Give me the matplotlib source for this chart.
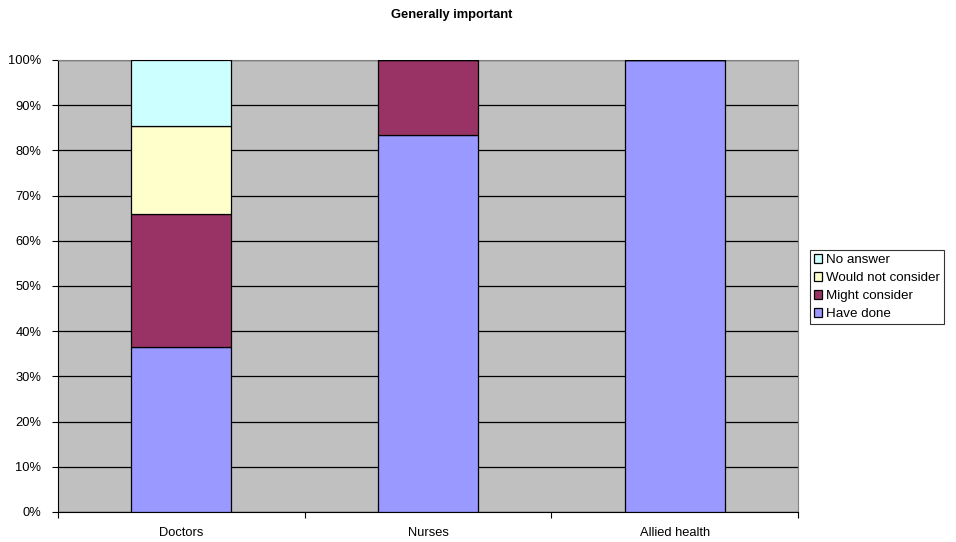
import matplotlib.pyplot as plt
import numpy as np
from matplotlib.ticker import PercentFormatter

plt.rcParams['font.family'] = ['Liberation Sans', 'DejaVu Sans']

groups = ['Doctors', 'Nurses', 'Allied health']
have_done = [36.6, 83.3, 100.0]
might_consider = [29.3, 16.7, 0.0]
would_not = [19.5, 0.0, 0.0]
no_answer = [14.6, 0.0, 0.0]

series = [
    ('Have done', have_done, '#9999ff'),
    ('Might consider', might_consider, '#993366'),
    ('Would not consider', would_not, '#ffffcc'),
    ('No answer', no_answer, '#ccffff'),
]

fs = 9.3
fig = plt.figure(figsize=(9.56, 5.42), dpi=100)
ax = fig.add_axes([0.0607, 0.0554, 0.7740, 0.8339])
ax.set_facecolor('#c0c0c0')

x = np.arange(len(groups))
bottom = np.zeros(len(groups))
handles = []
for name, vals, col in series:
    vals = np.array(vals)
    b = ax.bar(x, vals, 0.405, bottom=bottom, color=col, edgecolor='black',
               linewidth=0.9, label=name, zorder=3)
    handles.append(b)
    bottom += vals

ax.set_ylim(0, 100)
ax.set_xlim(-0.5, 2.5)
ax.set_yticks(np.arange(0, 101, 10))
ax.yaxis.set_major_formatter(PercentFormatter(decimals=0))
ax.yaxis.grid(True, color='black', linewidth=0.9, zorder=1)
ax.set_axisbelow(True)

ax.set_xticks([-0.5, 0.5, 1.5, 2.5])
ax.set_xticklabels([])
ax.set_xticks(x, minor=True)
ax.set_xticklabels(groups, minor=True)
ax.tick_params(axis='x', which='minor', length=0, pad=11, labelsize=fs)
ax.tick_params(axis='x', which='major', length=4, direction='out')
ax.tick_params(axis='y', length=4, direction='out', labelsize=fs, pad=8)

for s in ['top', 'right']:
    ax.spines[s].set_color('#808080')
for s in ['left', 'bottom']:
    ax.spines[s].set_color('black')

fig.text(452 / 956, 1 - 15 / 542, 'Generally important', fontsize=fs,
         fontweight='bold', ha='center', va='center')

leg = fig.legend(handles[::-1], [s[0] for s in series][::-1],
                 loc='upper left', bbox_to_anchor=(810 / 956, 1 - 250 / 542),
                 fontsize=9.6, frameon=True, fancybox=False, edgecolor='black',
                 handlelength=0.6, handleheight=0.6, handletextpad=0.3,
                 labelspacing=0.45, borderpad=0.3, borderaxespad=0)
leg.get_frame().set_linewidth(0.8)

fig.savefig('out.png', dpi=100)
